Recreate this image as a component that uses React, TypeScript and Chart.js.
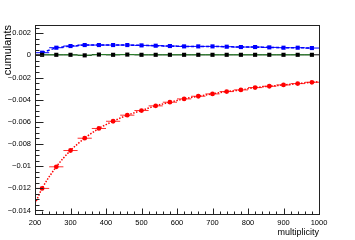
import React, { useEffect, useRef } from 'react';
import { Chart, registerables } from 'chart.js';

Chart.register(...registerables);

const multiplicity = [220, 260, 300, 340, 380, 420, 460, 500, 540, 580, 620, 660, 700, 740, 780, 820, 860, 900, 940, 980];
const redValues = [-0.01201, -0.01006, -0.00859, -0.00748, -0.0066, -0.00595, -0.0054, -0.00498, -0.00456, -0.00423, -0.00393, -0.00369, -0.00348, -0.00327, -0.00312, -0.00291, -0.00279, -0.00267, -0.00255, -0.00243];
const blueValues = [0.00024, 0.00069, 0.00084, 0.00093, 0.00093, 0.00093, 0.00093, 0.0009, 0.00087, 0.00084, 0.00081, 0.00081, 0.00081, 0.00078, 0.00075, 0.00075, 0.00072, 0.00069, 0.00069, 0.00066];
const blackValues = [0.00005, 0.00005, 0.00005, 0.0, 0.00007, 0.00005, 0.00007, 0.00005, 0.00005, 0.00005, 0.00005, 0.00005, 0.00005, 0.00005, 0.00005, 0.00005, 0.00005, 0.00005, 0.00005, 0.00005];
const fitX = [200, 220, 260, 300, 340, 380, 420, 460, 500, 540, 580, 620, 660, 700, 740, 780, 820, 860, 900, 940, 980, 1000];
const fitValues = [-0.0134, -0.01201, -0.01006, -0.00859, -0.00748, -0.0066, -0.00595, -0.0054, -0.00498, -0.00456, -0.00423, -0.00393, -0.00369, -0.00348, -0.00327, -0.00312, -0.00291, -0.00279, -0.00267, -0.00255, -0.00243, -0.00237];
const binHalfWidth = 20;

const xTicks = [200, 300, 400, 500, 600, 700, 800, 900, 1000];
const xTickLabels = ['200', '300', '400', '500', '600', '700', '800', '900', '1000'];
const yTicks = [0.002, 0, -0.002, -0.004, -0.006, -0.008, -0.01, -0.012, -0.014];
const yTickLabels = ['0.002', '0', '\u22120.002', '\u22120.004', '\u22120.006', '\u22120.008', '\u22120.01', '\u22120.012', '\u22120.014'];
const xMin = 200;
const xMax = 1000;
const yMin = -0.01432;
const yMax = 0.00274;
const xMinorStep = 20;
const yMinorStep = 0.0005;

const FONT = 'Liberation Sans, Arial, Helvetica, sans-serif';

const rootPlugin = {
  id: 'rootStyle',
  beforeDatasetsDraw(chart: any) {
    const ctx = chart.ctx;
    const xs = chart.scales.x;
    const ys = chart.scales.y;
    chart.data.datasets.forEach((ds: any, i: number) => {
      if (!ds.errorX) return;
      const meta = chart.getDatasetMeta(i);
      ctx.save();
      ctx.strokeStyle = ds.errorColor;
      ctx.lineWidth = 1;
      meta.data.forEach((pt: any, j: number) => {
        const xv = ds.data[j].x;
        const x1 = xs.getPixelForValue(xv - ds.errorX);
        const x2 = xs.getPixelForValue(xv + ds.errorX);
        ctx.beginPath();
        ctx.moveTo(x1, pt.y);
        ctx.lineTo(x2, pt.y);
        ctx.stroke();
      });
      ctx.restore();
    });
  },
  afterDraw(chart: any) {
    const ctx = chart.ctx;
    const a = chart.chartArea;
    const xs = chart.scales.x;
    const ys = chart.scales.y;
    ctx.save();
    ctx.strokeStyle = '#222';
    ctx.lineWidth = 1;
    const L = Math.round(a.left) + 0.5;
    const R = Math.round(a.right) + 0.5;
    const T = Math.round(a.top) + 0.5;
    const B = Math.round(a.bottom) + 0.5;
    ctx.strokeRect(L, T, R - L, B - T);
    ctx.beginPath();
    for (let v = xMin; v <= xMax + 1e-9; v += xMinorStep) {
      const px = Math.round(xs.getPixelForValue(v)) + 0.5;
      const major = Math.abs(v % 100) < 1e-6;
      const len = major ? 6 : 3;
      ctx.moveTo(px, B);
      ctx.lineTo(px, B - len);
    }
    const start = Math.ceil(yMin / yMinorStep) * yMinorStep;
    for (let k = 0; ; k++) {
      const v = start + k * yMinorStep;
      if (v > yMax) break;
      const py = Math.round(ys.getPixelForValue(v)) + 0.5;
      const q = Math.round(v / yMinorStep);
      const major = q % 4 === 0;
      const len = major ? 8 : 4;
      ctx.moveTo(L, py);
      ctx.lineTo(L + len, py);
    }
    ctx.stroke();
    ctx.restore();
  },
};

export default function App() {
  const ref = useRef<HTMLCanvasElement>(null);
  useEffect(() => {
    const canvas = ref.current;
    if (!canvas) return;
    const toPts = (xsArr: number[], ysArr: number[]) => xsArr.map((x, i) => ({ x, y: ysArr[i] }));
    const chart = new Chart(canvas, {
      type: 'scatter',
      data: {
        datasets: [
          {
            label: 'fit',
            data: toPts(fitX, fitValues),
            showLine: true,
            borderColor: '#ff0000',
            borderWidth: 1.5,
            borderDash: [1.5, 1.5],
            pointRadius: 0,
            cubicInterpolationMode: 'monotone',
          } as any,
          {
            label: 'black',
            data: toPts(multiplicity, blackValues),
            showLine: true,
            borderColor: '#2f8f2f',
            borderWidth: 1,
            pointStyle: 'rect',
            pointRadius: 2.9,
            pointBackgroundColor: '#000',
            pointBorderColor: '#000',
            pointBorderWidth: 0,
            errorX: binHalfWidth,
            errorColor: '#000',
          } as any,
          {
            label: 'blue',
            data: toPts(multiplicity, blueValues),
            showLine: true,
            borderColor: '#0000ff',
            borderWidth: 1.5,
            borderDash: [3, 2],
            pointStyle: 'rect',
            pointRadius: 2.9,
            pointBackgroundColor: '#0000ff',
            pointBorderColor: '#0000ff',
            pointBorderWidth: 0,
            errorX: binHalfWidth,
            errorColor: '#0000ff',
          } as any,
          {
            label: 'red',
            data: toPts(multiplicity, redValues),
            showLine: false,
            borderColor: '#ff0000',
            pointStyle: 'circle',
            pointRadius: 2.4,
            pointBackgroundColor: '#ff0000',
            pointBorderColor: '#ff0000',
            pointBorderWidth: 0,
            errorX: binHalfWidth,
            errorColor: '#ff3030',
          } as any,
        ],
      },
      options: {
        responsive: false,
        animation: false,
        devicePixelRatio: 1,
        layout: { padding: { top: 25, right: 36, left: 0, bottom: 0 } },
        plugins: { legend: { display: false }, tooltip: { enabled: false } },
        scales: {
          x: {
            type: 'linear',
            min: xMin,
            max: xMax,
            grid: { display: false, drawTicks: false },
            border: { display: false },
            afterFit: (s: any) => { s.height = 26; },
            afterBuildTicks: (s: any) => { s.ticks = xTicks.map((v) => ({ value: v })); },
            ticks: {
              autoSkip: false,
              maxRotation: 0,
              padding: 4,
              color: '#000',
              font: { family: FONT, size: 7.5 },
              callback: (v: any) => { const i = xTicks.indexOf(Number(v)); return i >= 0 ? xTickLabels[i] : ''; },
            },
            title: {
              display: true,
              text: 'multiplicity',
              align: 'end',
              color: '#000',
              font: { family: FONT, size: 9 },
              padding: { top: 0, bottom: 2.5 },
            },
          },
          y: {
            type: 'linear',
            min: yMin,
            max: yMax,
            grid: { display: false, drawTicks: false },
            border: { display: false },
            afterFit: (s: any) => { s.width = 35; },
            afterBuildTicks: (s: any) => { s.ticks = yTicks.map((v) => ({ value: v })); },
            ticks: {
              autoSkip: false,
              padding: 4,
              color: '#000',
              font: { family: FONT, size: 7.5 },
              callback: (v: any) => { const i = yTicks.findIndex((t) => Math.abs(t - Number(v)) < 1e-9); return i >= 0 ? yTickLabels[i] : ''; },
            },
            title: {
              display: true,
              text: 'cumulants',
              align: 'end',
              color: '#000',
              font: { family: FONT, size: 11 },
              padding: { top: 1.5, bottom: 0 },
            },
          },
        },
      } as any,
      plugins: [rootPlugin],
    });
    return () => chart.destroy();
  }, []);
  return (
    <div style={{ position: 'fixed', left: 0, top: 0, width: 355, height: 240, background: '#fff' }}>
      <canvas ref={ref} width={355} height={240} style={{ width: 355, height: 240, display: 'block' }} />
    </div>
  );
}
